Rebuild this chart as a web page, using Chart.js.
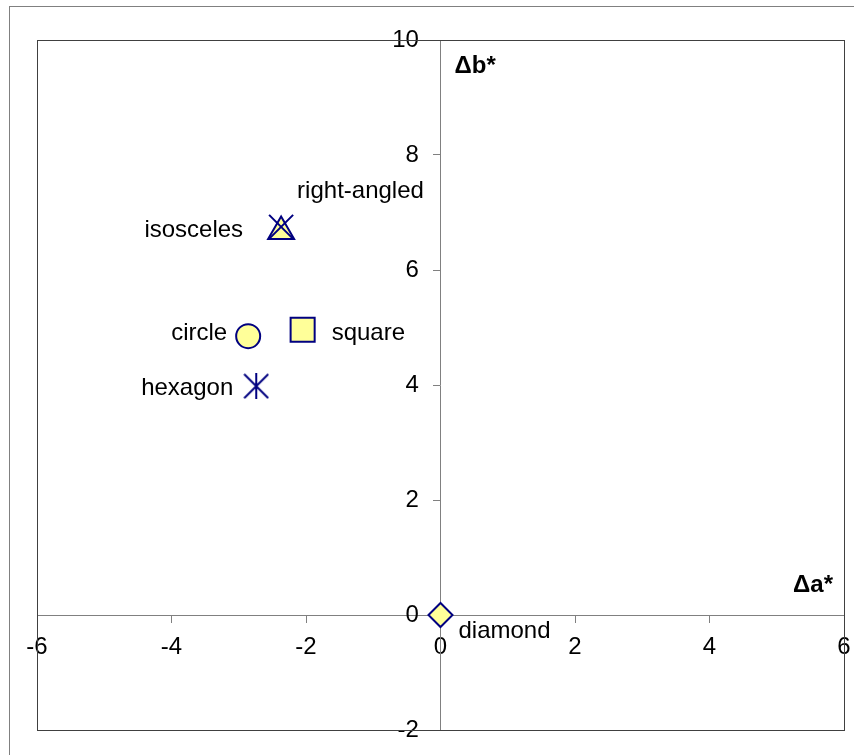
<!DOCTYPE html>
<html>
<head>
<meta charset="utf-8">
<script src="https://cdn.jsdelivr.net/npm/chart.js@4/dist/chart.umd.min.js"></script>
<style>
  html, body { margin: 0; padding: 0; background: #fff; overflow: hidden; }
  #wrap { position: relative; width: 854px; height: 755px; }
  #frame { position: absolute; left: 9px; top: 6px; width: 900px; height: 800px;
           border-left: 1px solid #808080; border-top: 1px solid #808080; }
  #chart { position: absolute; left: 0; top: 0; }
</style>
</head>
<body>
<div id="wrap">
  <div id="frame"></div>
  <canvas id="chart" width="854" height="755"></canvas>
</div>
<script>
// colour differences, one entry per shape
var names = ['circle', 'square', 'hexagon', 'isosceles', 'right-angled', 'diamond']
var deltaA = [-2.86, -2.05, -2.74, -2.37, -2.37, 0]
var deltaB = [4.85, 4.96, 3.98, 6.67, 6.75, 0]
var xTicks = [-6, -4, -2, 0, 2, 4, 6]
var yTicks = [-2, 0, 2, 4, 6, 8, 10]

var NAVY = '#000080'
var FILL = '#ffff99'
var FONT = '"Liberation Sans", Arial, sans-serif'

// excel-style star marker: an X with a vertical stroke
function starMarker () {
  var c = document.createElement('canvas')
  c.width = 26
  c.height = 26
  var g = c.getContext('2d')
  g.strokeStyle = NAVY
  g.lineWidth = 2
  g.beginPath()
  g.moveTo(1, 1); g.lineTo(25, 25)
  g.moveTo(25, 1); g.lineTo(1, 25)
  g.moveTo(13, 0); g.lineTo(13, 26)
  g.stroke()
  return c
}

var markerStyle = ['circle', 'rect', starMarker(), 'triangle', 'crossRot', 'rectRot']
var markerSize = [12, 17, 13, 15, 17, 12]
// where each label sits relative to its marker (px), and its alignment
var labelPlace = [
  { dx: -21, dy: 4, align: 'right' },
  { dx: 29, dy: 10, align: 'left' },
  { dx: -23, dy: 9, align: 'right' },
  { dx: -38, dy: 6, align: 'right' },
  { dx: 16, dy: -29, align: 'left' },
  { dx: 18, dy: 23, align: 'left' }
]

var points = deltaA.map(function (a, i) {
  return { x: a, y: deltaB[i] }
})

var extras = {
  id: 'extras',
  beforeDatasetsDraw: function (chart) {
    var ctx = chart.ctx
    var area = chart.chartArea
    ctx.save()
    ctx.strokeStyle = '#404040'
    ctx.lineWidth = 1
    ctx.strokeRect(Math.round(area.left) + 0.5, Math.round(area.top) + 0.5,
      Math.round(area.right - area.left), Math.round(area.bottom - area.top))
    ctx.restore()
  },
  afterDatasetsDraw: function (chart) {
    var ctx = chart.ctx
    var area = chart.chartArea
    var meta = chart.getDatasetMeta(0)
    ctx.save()
    ctx.fillStyle = '#000'
    ctx.textBaseline = 'alphabetic'
    ctx.font = '24px ' + FONT
    meta.data.forEach(function (pt, i) {
      var p = labelPlace[i]
      ctx.textAlign = p.align
      ctx.fillText(names[i], pt.x + p.dx, pt.y + p.dy)
    })
    // axis titles
    ctx.font = 'bold 24px ' + FONT
    var x0 = chart.scales.x.getPixelForValue(0)
    var y0 = chart.scales.y.getPixelForValue(0)
    ctx.textAlign = 'left'
    ctx.fillText('\u0394b*', x0 + 14, area.top + 33)
    ctx.textAlign = 'right'
    ctx.fillText('\u0394a*', area.right - 11, y0 - 23)
    ctx.restore()
  }
}

var gridOpts = { display: true, drawOnChartArea: false, drawTicks: true, tickLength: 7, color: '#808080' }
var borderOpts = { display: true, color: '#808080', width: 1 }
var tickFont = { family: FONT, size: 24 }

function noPadding (s) {
  s.paddingLeft = 0
  s.paddingRight = 0
  s.paddingTop = 0
  s.paddingBottom = 0
}

new Chart(document.getElementById('chart').getContext('2d'), {
  type: 'scatter',
  data: {
    datasets: [{
      data: points,
      pointStyle: markerStyle,
      pointRadius: markerSize,
      pointHoverRadius: markerSize,
      backgroundColor: FILL,
      borderColor: NAVY,
      borderWidth: 2,
      showLine: false
    }]
  },
  options: {
    responsive: false,
    animation: false,
    events: [],
    layout: { autoPadding: false, padding: { left: 37, right: 10, top: 40, bottom: 25 } },
    plugins: { legend: { display: false }, tooltip: { enabled: false } },
    scales: {
      x: {
        type: 'linear',
        position: { y: 0 },
        min: xTicks[0],
        max: xTicks[xTicks.length - 1],
        grid: gridOpts,
        border: borderOpts,
        ticks: { color: '#000', font: tickFont, padding: 11, maxRotation: 0 },
        afterBuildTicks: function (s) { s.ticks = xTicks.map(function (v) { return { value: v } }) },
        afterFit: noPadding
      },
      y: {
        type: 'linear',
        position: { x: 0 },
        min: yTicks[0],
        max: yTicks[yTicks.length - 1],
        grid: gridOpts,
        border: borderOpts,
        // centred axes ignore tick padding, so keep the label clear of the tick with trailing spaces
        ticks: { color: '#000', font: tickFont, callback: function (v) { return v + '\u2002\u2009\u2009' } },
        afterBuildTicks: function (s) { s.ticks = yTicks.map(function (v) { return { value: v } }) },
        afterFit: noPadding
      }
    }
  },
  plugins: [extras]
})
</script>
</body>
</html>
